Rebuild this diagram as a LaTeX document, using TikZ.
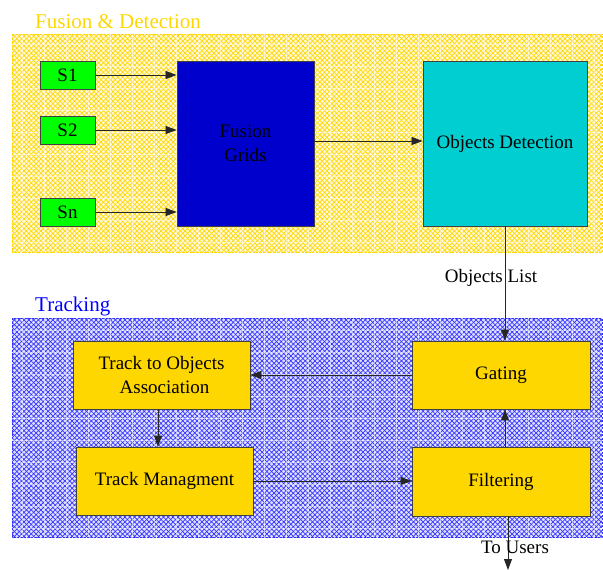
\documentclass[tikz,border=0pt]{standalone}
\usepackage{fontspec}
\setmainfont{Liberation Serif}
\usetikzlibrary{arrows.meta,patterns.meta}
\definecolor{clgold}{HTML}{FFD700}
\definecolor{clblue}{HTML}{3333FF}
\definecolor{sgreen}{HTML}{00FF00}
\definecolor{fblue}{HTML}{0000CD}
\definecolor{dturq}{HTML}{00CED1}
\tikzset{
  box/.style={draw=black!75, line width=0.9pt, inner sep=0pt, align=center,
    font=\fontsize{19}{24}\selectfont},
  arr/.style={draw=black!85, line width=0.8pt, -{Triangle[length=11pt,width=8pt]}},
  lbl/.style={font=\fontsize{19}{22}\selectfont, inner sep=0pt},
  ttl/.style={font=\fontsize{21}{24}\selectfont, inner sep=0pt, anchor=base west},
}
\newcommand{\clusterfill}[5]{% colour, x1, y1, x2, y2
  \fill[#1!15] (#2,#3) rectangle (#4,#5);
  \path[pattern={Lines[angle=45,distance=3.4pt,line width=0.7pt]}, pattern color=#1]
    (#2,#3) rectangle (#4,#5);
  \path[pattern={Lines[angle=-45,distance=3.4pt,line width=0.7pt]}, pattern color=#1]
    (#2,#3) rectangle (#4,#5);
  \begin{scope}
    \clip (#2,#3) rectangle (#4,#5);
    \draw[white, line width=0.8pt, opacity=0.5, xstep=22pt, ystep=22pt] (#2,#3) grid (#4,#5);
  \end{scope}
  \draw[#1, line width=0.9pt, dash pattern=on 2pt off 1.5pt] (#2,#3) rectangle (#4,#5);
}
\begin{document}
\begin{tikzpicture}[x=1pt,y=-1pt]
\useasboundingbox (0,0) rectangle (603,570);

% cluster backgrounds
\clusterfill{clgold}{12}{34}{602}{252}
\clusterfill{clblue}{12}{318}{602}{537}
\node[ttl, text=clgold] (tfus) at (35,28) {Fusion \& Detection};
\node[ttl, text=blue] (ttrk) at (35,311) {Tracking};

% fusion & detection nodes
\node[box, fill=sgreen, minimum width=55pt, minimum height=28pt] (s1) at (67.5,75) {S1};
\node[box, fill=sgreen, minimum width=55pt, minimum height=28pt] (s2) at (67.5,130) {S2};
\node[box, fill=sgreen, minimum width=55pt, minimum height=28pt] (sn) at (67.5,212) {Sn};
\node[box, fill=fblue, minimum width=137pt, minimum height=165pt] (fg) at (245.5,143.5) {Fusion\\Grids};
\node[box, fill=dturq, minimum width=164pt, minimum height=165pt] (od) at (505,143.5) {Objects Detection};

% tracking nodes
\node[box, fill=clgold, minimum width=177pt, minimum height=68pt] (toa) at (161.5,375) {Track to Objects\\ \hspace*{6pt}Association};
\node[box, fill=clgold, minimum width=177pt, minimum height=68pt] (tm) at (164.5,481) {Track Managment};
\node[box, fill=clgold, minimum width=178pt, minimum height=68pt] (gat) at (501,375) {Gating};
\node[box, fill=clgold, minimum width=178pt, minimum height=69pt] (fil) at (501,481.5) {Filtering};

\coordinate (users) at (508,570);

% connectors
\draw[arr] (s1.east) -- (s1.east -| fg.west);
\draw[arr] (s2.east) -- (s2.east -| fg.west);
\draw[arr] (sn.east) -- (sn.east -| fg.west);
\draw[arr] (fg.east |- 0,141) -- (od.west |- 0,141);
\draw[arr] (od.south) -- (gat.north -| od.south)
  node[lbl, pos=0.45, xshift=-14pt] (ol) {Objects List};
\draw[arr] (gat.west) -- (toa.east);
\draw[arr] (toa.south -| 158,0) -- (tm.north -| 158,0);
\draw[arr] (tm.east) -- (fil.west |- tm.east);
\draw[arr] (fil.north -| 505,0) -- (gat.south -| 505,0);
\draw[arr] (fil.south -| users) -- (users)
  node[lbl, pos=0.58, xshift=7pt] (tu) {To Users};
\end{tikzpicture}
\end{document}
